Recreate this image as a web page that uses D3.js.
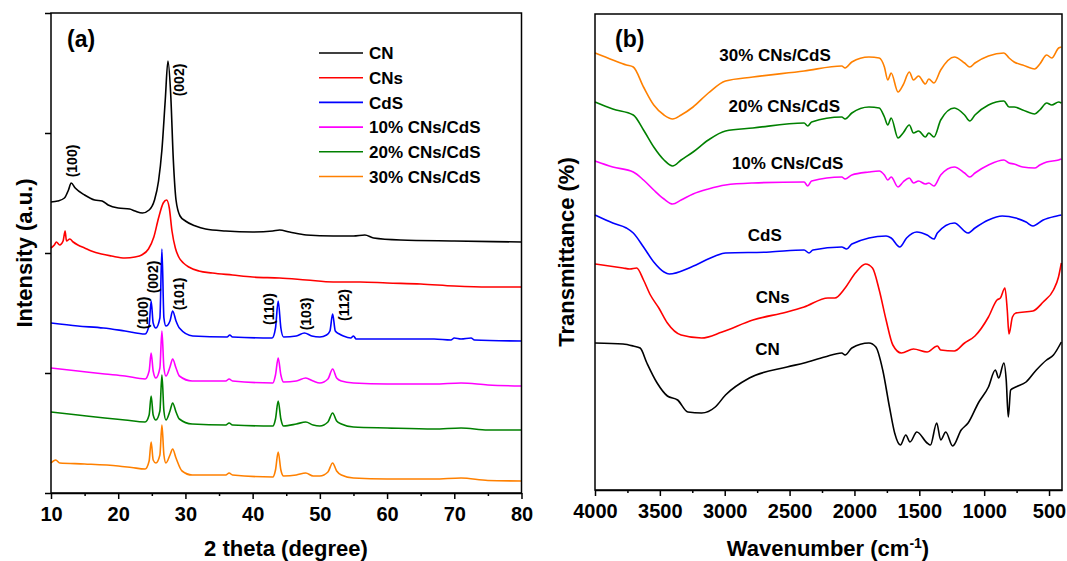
<!DOCTYPE html>
<html>
<head>
<meta charset="utf-8">
<script src="https://cdn.jsdelivr.net/npm/d3@7"></script>
<style>
  body { margin: 0; background: #fff; }
  svg text { font-family: Arial, "Liberation Sans", sans-serif; font-weight: bold; fill: #000; }
</style>
</head>
<body>
<svg id="chart" width="1067" height="561"></svg>
<script>
// ---- XRD data (2theta, intensity a.u.) ----
const xrdCN = [[10,291],[11,292],[12,295],[12.6,303],[13.0,310],[13.6,305],[15,298],[16.5,293],[17.6,292],[18.5,288],[20,285],[21.7,284],[22.5,282],[23.6,280],[24.6,283],[25.4,293],[26,312],[26.5,343],[27.0,393],[27.4,432],[27.8,400],[28.2,333],[28.6,293],[29.2,277],[30,272],[31.5,267],[33,264],[36,262],[40,261],[43,262],[44,263],[45.5,261],[48,258],[52,257],[55,257],[56.7,258],[58,255],[62,253],[70,252],[80,251]];
const xrdCNs = [[10,245],[10.5,248],[10.8,251],[11.3,248],[11.8,252],[12.1,262],[12.3,252],[12.8,254],[13.3,251],[14,248],[15,245],[16,242],[17.5,239],[19,237],[21,235],[22.5,236],[23.5,238],[24.5,244],[25.3,256],[26,275],[26.7,290],[27.2,293],[27.6,285],[28,262],[28.5,245],[29,236],[29.7,230],[30.5,226],[32,222],[34,220],[37,218],[40,216],[44,215],[48,213],[52,211],[56,211],[60,210],[65,209],[70,207],[75,206],[80,206]];
const xrdCdS = [[10,170],[14,167],[17.8,165],[21,162],[24,159],[24.6,168],[24.9,192],[25.2,170],[25.6,165],[26.2,175],[26.5,244],[26.8,175],[27.1,167],[27.7,172],[28.1,182],[28.6,172],[29.1,165],[31.1,157],[36.2,156],[36.6,158],[37,156],[42.9,155],[43.4,165],[43.8,192],[44.2,165],[44.6,156],[46.5,157],[47.7,160],[48.8,157],[50,156],[51,158],[51.5,162],[51.9,179],[52.3,162],[52.9,159],[53.5,157],[54.6,155],[55,157],[55.4,154],[60,154],[67,154],[69.5,153],[70,155],[71,154],[72.5,155],[73,153],[80,152]];
const xrd10 = [[10,125],[14,122],[18,119],[21,117],[24,114],[24.6,122],[24.9,140],[25.2,122],[25.6,115],[26.2,125],[26.5,162],[26.8,125],[27.1,117],[27.7,126],[28.1,134],[28.6,125],[29.1,117],[31,112],[36,112],[36.5,114],[37,112],[43,110],[43.4,118],[43.8,135],[44.2,118],[44.6,111],[46.5,112],[47.9,115],[49,112],[50,110],[51.2,114],[51.9,124],[52.5,115],[53.2,112],[55,110],[60,109],[67,109],[71,110],[75,108],[80,107]];
const xrd20 = [[10,81],[14,78],[18,75],[21,73],[24,71],[24.6,78],[24.9,97],[25.2,78],[25.6,73],[26.2,82],[26.5,118],[26.8,82],[27.1,73],[27.7,82],[28.1,90],[28.6,81],[29.1,74],[31,69],[36,68],[36.5,70],[37,68],[43,67],[43.4,74],[43.8,92],[44.2,74],[44.6,67],[46.5,69],[47.9,71],[49,68],[50,67],[51.2,71],[51.9,80],[52.5,72],[53.2,69],[55,66],[60,65],[67,64],[71,65],[75,63],[80,63]];
const xrd30 = [[10,30],[10.7,33],[11.3,30],[15,29],[20,27],[22,25.5],[24,24],[24.6,32],[24.9,51],[25.2,33],[25.6,30],[26.2,38],[26.5,68],[26.8,38],[27.1,30],[27.7,38],[28.1,44],[28.6,35],[29.5,22],[31,18],[36,18],[36.5,20],[37,18],[43,16],[43.4,23],[43.8,41],[44.2,23],[44.6,17],[46.5,18],[47.9,20],[49,17],[50,17],[51.2,21],[51.9,30],[52.5,22],[53.2,18],[55,15],[60,14],[67,14],[71,15],[75,12.5],[80,12]];

const xrdNames = ["CN", "CNs", "CdS", "10% CNs/CdS", "20% CNs/CdS", "30% CNs/CdS"];
const xrdSeries = [xrdCN, xrdCNs, xrdCdS, xrd10, xrd20, xrd30];
const colors = ["#000000", "#ff0000", "#0000ff", "#ff00ff", "#008000", "#ff8000"];
const xrdTicks = [10, 20, 30, 40, 50, 60, 70, 80];
const xrdMinor = [15, 25, 35, 45, 55, 65, 75];
const xrdYTicks = [0, 120, 240, 360, 480];

// peak labels: text, 2theta, intensity
const xrdPeaks = [
  ["(100)", 13.2, 332], ["(002)", 29.1, 413],
  ["(100)", 23.7, 180], ["(002)", 25.2, 216], ["(101)", 29.0, 199],
  ["(110)", 42.5, 184], ["(103)", 48.0, 179], ["(112)", 53.6, 188]
];

// ---- FTIR data (wavenumber, transmittance a.u.) ----
const ftir30 = [[4000,437],[3863,430],[3758,425],[3705,423],[3626,403],[3547,385],[3468,375],[3402,371],[3336,375],[3244,383],[3126,397],[2994,409],[2783,413],[2388,419],[2098,424],[2072,422],[2020,428],[1888,433],[1809,432],[1769,423],[1743,410],[1717,417],[1664,398],[1625,405],[1577,418],[1545,410],[1506,414],[1453,406],[1427,411],[1387,407],[1335,420],[1230,433],[1151,427],[1111,423],[1071,427],[967,434],[848,437],[808,432],[769,428],[703,425],[611,421],[571,426],[518,435],[479,432],[426,442],[405,443]];
const ftir20 = [[4000,388],[3863,381],[3705,375],[3626,360],[3547,343],[3468,330],[3402,324],[3336,330],[3244,338],[3126,350],[2994,359],[2783,362],[2388,367],[2360,364],[2330,368],[2098,373],[2072,371],[2020,377],[1888,383],[1809,382],[1769,373],[1743,365],[1717,372],[1664,352],[1625,357],[1577,365],[1545,357],[1506,359],[1453,353],[1427,357],[1387,353],[1335,370],[1230,382],[1151,375],[1111,369],[1071,375],[967,385],[848,389],[808,383],[769,383],[703,380],[611,376],[571,380],[518,387],[479,385],[426,388],[405,387]];
const ftir10 = [[4000,329],[3863,323],[3705,318],[3626,310],[3547,300],[3468,291],[3402,286],[3336,290],[3244,296],[3126,301],[2994,305],[2783,307],[2388,308],[2360,304],[2330,309],[2098,313],[2072,311],[2020,315],[1888,318],[1809,319],[1769,315],[1743,310],[1717,313],[1664,303],[1625,308],[1577,312],[1545,307],[1506,309],[1453,306],[1427,307],[1387,304],[1335,315],[1230,323],[1151,317],[1111,313],[1071,317],[967,325],[848,330],[808,327],[769,326],[703,323],[611,322],[571,325],[518,328],[426,330],[405,331]];
const ftirCdS = [[4000,275],[3863,267],[3758,262],[3705,257],[3626,243],[3547,228],[3468,218],[3428,216],[3257,223],[3073,234],[2994,237],[2652,238],[2388,240],[2350,237],[2320,240],[2098,243],[2060,241],[2020,246],[1756,254],[1717,252],[1651,243],[1598,252],[1519,258],[1440,255],[1387,251],[1361,257],[1230,267],[1124,257],[1071,262],[967,270],[861,274],[756,272],[677,268],[624,264],[545,270],[440,274],[405,275]];
const ftirCNs = [[4000,226],[3784,222],[3731,221],[3679,222],[3626,210],[3573,195],[3508,182],[3442,167],[3336,155],[3178,152],[3020,158],[2783,170],[2520,178],[2388,183],[2204,192],[2151,192],[2072,202],[1993,217],[1914,226],[1861,222],[1809,200],[1756,170],[1704,145],[1638,137],[1545,141],[1440,138],[1361,144],[1335,140],[1230,139],[1151,147],[1071,154],[967,173],[901,190],[875,192],[840,202],[822,180],[809,156],[782,173],[756,177],[624,179],[545,188],[466,200],[427,213],[405,227]];
const ftirCN = [[4000,147],[3784,146],[3705,144],[3652,142],[3600,127],[3521,107],[3442,94],[3363,90],[3284,78],[3178,77],[3073,83],[2994,95],[2810,112],[2520,123],[2388,127],[2230,133],[2098,137],[2072,135],[2020,142],[1888,147],[1835,143],[1782,120],[1730,83],[1690,57],[1646,45],[1604,55],[1572,48],[1519,58],[1440,47],[1414,45],[1366,67],[1335,50],[1296,58],[1243,44],[1177,60],[1124,67],[1045,87],[967,103],[914,120],[888,112],[848,127],[830,110],[814,73],[796,100],[756,103],[677,108],[598,120],[519,130],[466,135],[405,148]];

const ftirSeries = [ftir30, ftir20, ftir10, ftirCdS, ftirCNs, ftirCN];
const ftirColors = ["#ff8000", "#008000", "#ff00ff", "#0000ff", "#ff0000", "#000000"];
const ftirLabels = [
  ["30% CNs/CdS", 2612, 435], ["20% CNs/CdS", 2541, 384], ["10% CNs/CdS", 2515, 327],
  ["CdS", 2691, 255], ["CNs", 2630, 193], ["CN", 2670, 141]
];
const ftirTicks = [4000, 3500, 3000, 2500, 2000, 1500, 1000, 500];
const ftirMinor = [3750, 3250, 2750, 2250, 1750, 1250, 750];

const svg = d3.select("#chart");
const fmt = d3.format("d");

// ================= panel (a) =================
const xA = d3.scaleLinear().domain([10, 80]).range([51, 521.5]);
const yA = d3.scaleLinear().domain([0, 480]).range([493, 13]);
const gA = svg.append("g");

const lineA = d3.line().curve(d3.curveMonotoneX).x(d => xA(d[0])).y(d => yA(d[1]));
xrdSeries.forEach((s, i) => {
  gA.append("path").datum(s)
    .attr("fill", "none").attr("stroke", colors[i])
    .attr("stroke-width", 1.6).attr("stroke-linejoin", "round")
    .attr("d", lineA);
});

gA.append("rect").attr("x", 51).attr("y", 13)
  .attr("width", 470.5).attr("height", 480)
  .attr("fill", "none").attr("stroke", "#000").attr("stroke-width", 1.5);

const axA = gA.append("g").attr("transform", "translate(0,493)")
  .call(d3.axisBottom(xA).tickValues(xrdTicks).tickFormat(fmt).tickSize(6).tickSizeOuter(0).tickPadding(8));
gA.append("g").attr("transform", "translate(0,493)")
  .call(d3.axisBottom(xA).tickValues(xrdMinor).tickSize(3).tickFormat(""))
  .call(g => g.select(".domain").remove());
gA.append("g").attr("transform", "translate(51,0)")
  .call(d3.axisLeft(yA).tickValues(xrdYTicks).tickSize(6).tickFormat(""))
  .call(g => g.select(".domain").remove());

gA.selectAll(".tick line").attr("stroke-width", 1.5);
axA.select(".domain").attr("stroke-width", 1.5);
axA.selectAll("text").attr("font-size", 20).attr("font-weight", "bold")
  .attr("font-family", "Arial, 'Liberation Sans', sans-serif");

gA.append("text").attr("x", 286).attr("y", 556)
  .attr("text-anchor", "middle").attr("font-size", 22).text("2 theta (degree)");
gA.append("text").attr("transform", "translate(32,253) rotate(-90)")
  .attr("text-anchor", "middle").attr("font-size", 22).text("Intensity (a.u.)");
gA.append("text").attr("x", 67).attr("y", 47).attr("font-size", 23).text("(a)");

// peak labels
xrdPeaks.forEach(p => {
  gA.append("text")
    .attr("transform", `translate(${xA(p[1])},${yA(p[2])}) rotate(-90)`)
    .attr("text-anchor", "middle").attr("dy", "0.35em")
    .attr("font-size", 14).text(p[0]);
});

// legend
xrdNames.forEach((name, i) => {
  const ly = 53 + i * 24.7;
  gA.append("line").attr("x1", 319).attr("x2", 363).attr("y1", ly).attr("y2", ly)
    .attr("stroke", colors[i]).attr("stroke-width", 1.6);
  gA.append("text").attr("x", 369).attr("y", ly).attr("dy", "0.36em")
    .attr("font-size", 17).text(name);
});

// ================= panel (b) =================
const xB = d3.scaleLinear().domain([4000, 400]).range([595, 1062]);
const yB = d3.scaleLinear().domain([0, 476]).range([490, 14]);
const gB = svg.append("g");

const lineB = d3.line().curve(d3.curveMonotoneX).x(d => xB(d[0])).y(d => yB(d[1]));
ftirSeries.forEach((s, i) => {
  gB.append("path").datum(s)
    .attr("fill", "none").attr("stroke", ftirColors[i])
    .attr("stroke-width", 1.6).attr("stroke-linejoin", "round")
    .attr("d", lineB);
});

gB.append("rect").attr("x", 595).attr("y", 14)
  .attr("width", 467).attr("height", 476)
  .attr("fill", "none").attr("stroke", "#000").attr("stroke-width", 1.5);

const axB = gB.append("g").attr("transform", "translate(0,490)")
  .call(d3.axisBottom(xB).tickValues(ftirTicks).tickFormat(fmt).tickSize(6).tickSizeOuter(0).tickPadding(8));
gB.append("g").attr("transform", "translate(0,490)")
  .call(d3.axisBottom(xB).tickValues(ftirMinor).tickSize(3).tickFormat(""))
  .call(g => g.select(".domain").remove());
gB.selectAll(".tick line").attr("stroke-width", 1.5);
axB.select(".domain").attr("stroke-width", 1.5);
axB.selectAll("text").attr("font-size", 20).attr("font-weight", "bold")
  .attr("font-family", "Arial, 'Liberation Sans', sans-serif");

const wl = gB.append("text").attr("x", 828).attr("y", 556)
  .attr("text-anchor", "middle").attr("font-size", 22);
wl.append("tspan").text("Wavenumber (cm");
wl.append("tspan").attr("dy", -8).attr("font-size", 14).text("-1");
wl.append("tspan").attr("dy", 8).text(")");

gB.append("text").attr("transform", "translate(574,252) rotate(-90)")
  .attr("text-anchor", "middle").attr("font-size", 22).text("Transmittance (%)");
gB.append("text").attr("x", 615).attr("y", 47).attr("font-size", 23).text("(b)");

ftirLabels.forEach(l => {
  gB.append("text").attr("x", xB(l[1])).attr("y", yB(l[2])).attr("dy", "0.36em")
    .attr("text-anchor", "middle").attr("font-size", 17).text(l[0]);
});
</script>
</body>
</html>
